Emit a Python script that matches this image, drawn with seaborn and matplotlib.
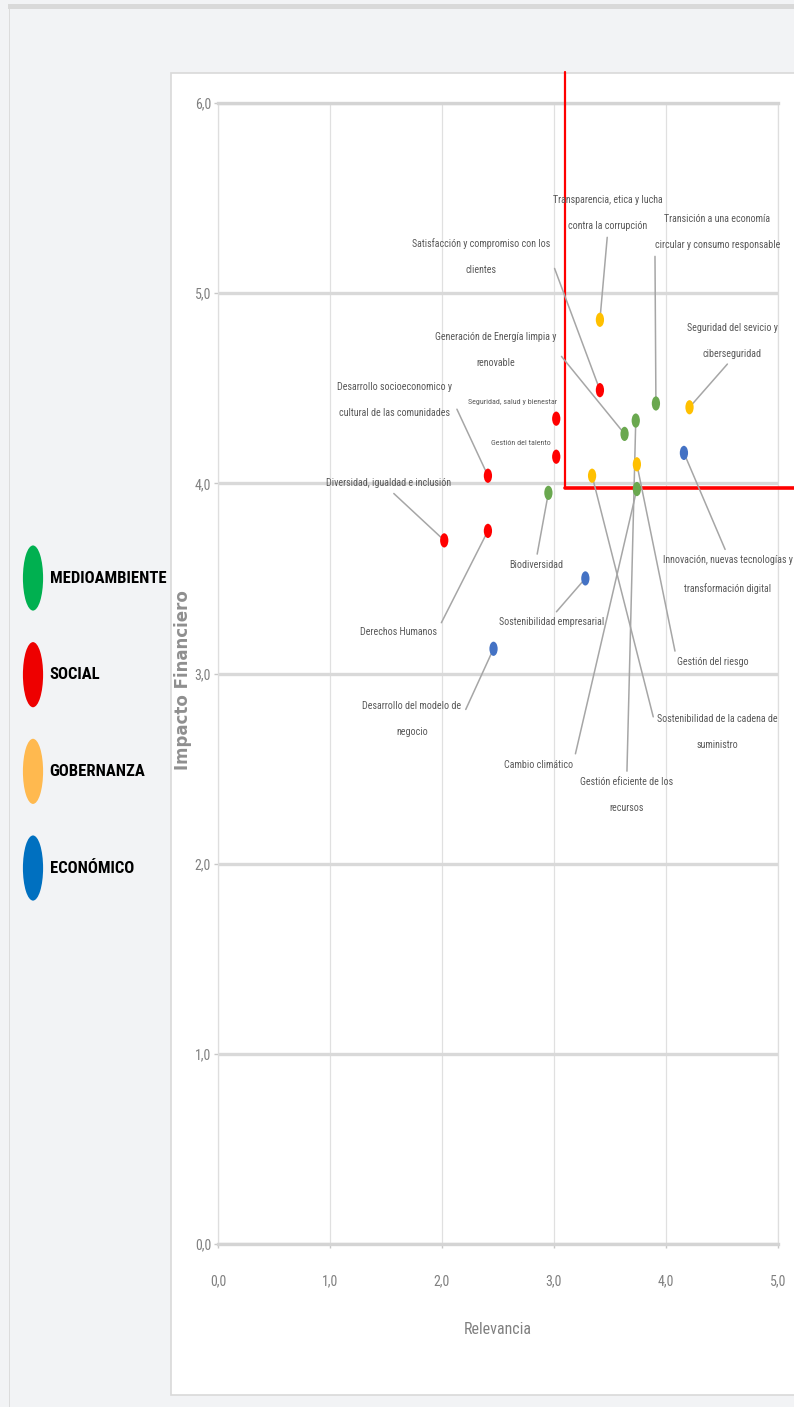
import matplotlib
matplotlib.use("Agg")
import matplotlib.pyplot as plt
import seaborn as sns
import pandas as pd
from matplotlib.path import Path
from matplotlib.patches import Rectangle
from matplotlib.ticker import FuncFormatter, MultipleLocator

# --- datos ---
temas = [
    "Transparencia, etica y lucha\ncontra la corrupción",
    "Satisfacción y compromiso con los\nclientes",
    "Transición a una economía\ncircular y consumo responsable",
    "Seguridad del sevicio y\nciberseguridad",
    "Generación de Energía limpia y\nrenovable",
    "Gestión eficiente de los\nrecursos",
    "Seguridad, salud y bienestar",
    "Gestión del talento",
    "Desarrollo socioeconomico y\ncultural de las comunidades",
    "Innovación, nuevas tecnologías y\ntransformación digital",
    "Gestión del riesgo",
    "Cambio climático",
    "Sostenibilidad de la cadena de\nsuministro",
    "Diversidad, igualdad e inclusión",
    "Derechos Humanos",
    "Biodiversidad",
    "Sostenibilidad empresarial",
    "Desarrollo del modelo de\nnegocio",
]
relevancia = [3.41, 3.41, 3.91, 4.21, 3.63, 3.73, 3.02, 3.02, 2.41,
              4.16, 3.74, 3.74, 3.34, 2.02, 2.41, 2.95, 3.28, 2.46]
impacto = [4.86, 4.49, 4.42, 4.40, 4.26, 4.33, 4.34, 4.14, 4.04,
           4.16, 4.10, 3.97, 4.04, 3.70, 3.75, 3.95, 3.50, 3.13]
categoria = ["GOBERNANZA", "SOCIAL", "MEDIOAMBIENTE", "GOBERNANZA",
             "MEDIOAMBIENTE", "MEDIOAMBIENTE", "SOCIAL", "SOCIAL", "SOCIAL",
             "ECONÓMICO", "GOBERNANZA", "MEDIOAMBIENTE", "GOBERNANZA",
             "SOCIAL", "SOCIAL", "MEDIOAMBIENTE", "ECONÓMICO", "ECONÓMICO"]
categorias = ["MEDIOAMBIENTE", "SOCIAL", "GOBERNANZA", "ECONÓMICO"]
umbral_relevancia = 3.1
umbral_impacto = 3.975

# --- estilo / layout ---
colores_puntos = {"MEDIOAMBIENTE": "#6aa84f", "SOCIAL": "#ff0000",
                  "GOBERNANZA": "#ffc000", "ECONÓMICO": "#4472c4"}
colores_leyenda = ["#00b050", "#ee0000", "#ffb94f", "#0070c0"]

# posicion del texto de cada etiqueta y punto de enganche de la linea guia
pos_etiquetas = [(3.48, 5.42), (2.35, 5.19), (4.46, 5.32), (4.59, 4.75),
                 (2.48, 4.70), (3.65, 2.36), (2.63, 4.43), (2.70, 4.21),
                 (1.58, 4.44), (4.55, 3.52), (4.42, 3.06), (2.86, 2.52),
                 (4.46, 2.69), (1.52, 4.00), (1.61, 3.22), (2.84, 3.57),
                 (2.98, 3.27), (1.73, 2.76)]
enganche = [(0.5, 0), (1, 0.5), (0, 0.5), (0.5, 0), (1, 0.5), (0.5, 1),
            None, (1, 0.5), (1, 0.5), (0.5, 1), (0, 0.5), (1, 0.5),
            (0, 0.5), (0.5, 0), (1, 0.5), (0.5, 1), (0.5, 1), (1, 0.5)]
tam_etiqueta = [7.2] * len(temas)
tam_etiqueta[6] = 5.8
tam_etiqueta[7] = 5.8

ESTRECHA = ["Roboto Condensed", "Liberation Sans Narrow", "DejaVu Sans"]
GRIS_TEXTO = "#595959"
GRIS_EJE = "#808080"

sns.set_theme(style="white")
plt.rcParams["font.family"] = ESTRECHA
plt.rcParams["font.stretch"] = "condensed"

circulo = Path.unit_circle()
punto = Path(circulo.vertices * [0.58, 1.0], circulo.codes)
ovalo = Path(circulo.vertices * [0.31, 1.0], circulo.codes)

df = pd.DataFrame({"Tema": temas, "Relevancia": relevancia,
                   "Impacto": impacto, "Categoria": categoria})

W, H = 794, 1407
fig = plt.figure(figsize=(W / 100, H / 100), dpi=100, facecolor="#f2f3f5")

# marco superior y panel blanco del grafico
fig.add_artist(Rectangle((8 / W, 1 - 9 / H), 1, 5 / H, transform=fig.transFigure,
                         facecolor="#d9d9d9", lw=0, zorder=0))
fig.add_artist(Rectangle((9 / W, 0), 0.0012, 1 - 9 / H, transform=fig.transFigure,
                         facecolor="#dcdcdc", lw=0, zorder=0))
fig.add_artist(Rectangle((171 / W, 12 / H), 1, (1395 - 73) / H,
                         transform=fig.transFigure, facecolor="white",
                         edgecolor="#d9d9d9", lw=1.2, zorder=0))

ax = fig.add_axes([218 / W, 1 - 1244 / H, 560 / W, 1141 / H])
ax.set_facecolor("none")

sns.scatterplot(data=df, x="Relevancia", y="Impacto", hue="Categoria",
                hue_order=categorias, palette=colores_puntos, marker=punto,
                s=105, linewidth=0, legend=False, ax=ax, zorder=5)

ax.set_xlim(0, 5)
ax.set_ylim(0, 6)
ax.xaxis.set_major_locator(MultipleLocator(1))
ax.yaxis.set_major_locator(MultipleLocator(1))
coma = FuncFormatter(lambda v, _: f"{v:.1f}".replace(".", ","))
ax.xaxis.set_major_formatter(coma)
ax.yaxis.set_major_formatter(coma)

ax.set_axisbelow(True)
ax.yaxis.grid(True, color="#d9d9d9", lw=2.4)
ax.xaxis.grid(True, color="#e0e0e0", lw=0.9)
for lado in ["top", "bottom"]:
    ax.spines[lado].set_color("#d4d4d4")
    ax.spines[lado].set_linewidth(2.4)
for lado in ["left", "right"]:
    ax.spines[lado].set_color("#dedede")
    ax.spines[lado].set_linewidth(0.9)

ax.tick_params(axis="both", which="major", direction="out", length=3, width=1,
               color="#c8c8c8", labelcolor=GRIS_EJE, labelsize=10)
ax.tick_params(axis="y", pad=2, left=True)
ax.tick_params(axis="x", pad=19, bottom=True)

ax.set_xlabel("Relevancia", fontsize=11.5, color=GRIS_EJE)
ax.xaxis.set_label_coords(0.5, -0.068)
ax.set_ylabel("Impacto Financiero", fontsize=12, color="#8f8f8f",
              family=["DejaVu Sans"], fontstretch="normal", fontweight="bold")
ax.yaxis.set_label_coords(-0.047, 0.494)

# lineas rojas de umbral
ax.axvline(umbral_relevancia, ymin=umbral_impacto / 6, ymax=1.027,
           color="#ff0000", lw=1.6, clip_on=False, zorder=3)
ax.axhline(umbral_impacto, xmin=umbral_relevancia / 5, xmax=1.03,
           color="#ff0000", lw=2.6, clip_on=False, zorder=3)

# etiquetas de cada tema con linea guia
for i, fila in df.iterrows():
    flecha = None
    if enganche[i] is not None:
        flecha = dict(arrowstyle="-", color="#a6a6a6", lw=1.1,
                      shrinkA=2, shrinkB=3, relpos=enganche[i])
    ax.annotate(fila["Tema"], xy=(fila["Relevancia"], fila["Impacto"]),
                xytext=pos_etiquetas[i], textcoords="data",
                ha="center", va="center", fontsize=tam_etiqueta[i],
                color=GRIS_TEXTO, linespacing=3.0, arrowprops=flecha,
                annotation_clip=False, zorder=4)

# leyenda de categorias a la izquierda
ax_ley = fig.add_axes([0, 1 - 950 / H, 171 / W, 450 / H])
ax_ley.set_xlim(0, 1)
ax_ley.set_ylim(3.848, -0.807)
ax_ley.axis("off")
filas = list(range(len(categorias)))
ax_ley.scatter([0.193] * len(filas), filas, marker=ovalo, s=2200,
               c=colores_leyenda, linewidths=0)
for fila, nombre in zip(filas, categorias):
    ax_ley.text(0.29, fila, nombre, ha="left", va="center", fontsize=12,
                fontweight="bold", color="black")

fig.savefig("out.png", dpi=100, facecolor=fig.get_facecolor())
